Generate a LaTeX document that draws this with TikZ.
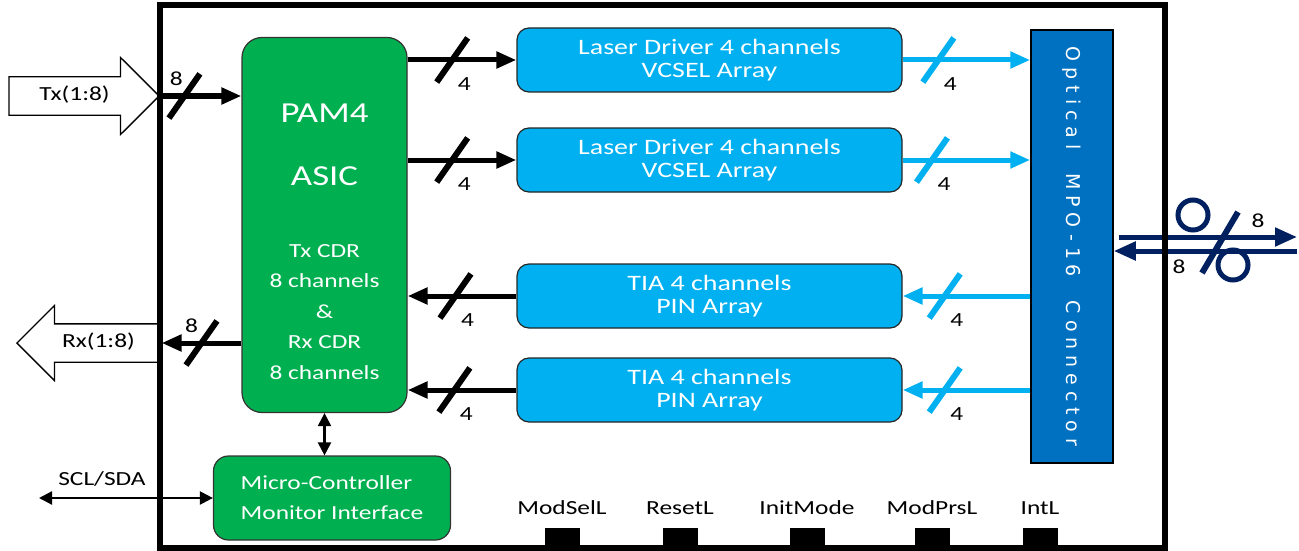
\documentclass[tikz,border=0pt]{standalone}
\usepackage{fontspec}
\setmainfont[FakeStretch = 1.27]{Carlito}
\newfontfamily\mpofont[LetterSpace = 31]{DejaVu Sans}
\usetikzlibrary{arrows.meta, shapes.arrows}

\definecolor{asicgreen}{RGB}{0, 176, 80}
\definecolor{driverblue}{RGB}{0, 176, 240}
\definecolor{mpoblue}{RGB}{0, 112, 192}
\definecolor{fibernavy}{RGB}{0, 32, 96}

\begin{document}
\begin{tikzpicture}[%
        x = 1pt,
        y = -1pt,
        font = \fontsize{20}{24}\selectfont,
        greenbox/.style = {%
            draw = black!80,
            line width = 1.2pt,
            fill = asicgreen,
            rounded corners = 20pt,
            text = white
        },
        bluebox/.style = {%
            draw = black!85,
            line width = 1.2pt,
            fill = driverblue,
            rounded corners = 12pt,
            text = white,
            align = center,
            minimum width = 385pt,
            minimum height = 64pt,
            font = \fontsize{22}{22.5}\selectfont
        },
        bigarrow/.style = {%
            single arrow,
            draw = black,
            fill = white,
            line width = 1.3pt,
            single arrow head indent = 0pt,
            inner xsep = 0pt,
            inner ysep = 9pt,
            text height = 14pt,
            text depth = 5pt
        },
        bus/.style = {%
            draw = black,
            line width = 5pt,
            -{Triangle[length = 20pt, width = 16pt]}
        },
        lightbus/.style = {%
            bus,
            draw = driverblue
        },
        fiber/.style = {%
            draw = fibernavy,
            line width = 5pt,
            -{Triangle[length = 22pt, width = 18pt]}
        },
        ctrl/.style = {%
            draw = black,
            line width = 2.2pt,
            {Triangle[length = 13pt, width = 13pt]}-{Triangle[length = 13pt, width = 13pt]}
        },
        slashmark/.style = {%
            rectangle,
            fill = black,
            inner sep = 0pt,
            minimum width = 54pt,
            minimum height = 6pt,
            rotate = 55
        },
        buscount/.style = {%
            inner sep = 0pt,
            xshift = 12pt,
            yshift = -24pt
        },
        pad/.style = {%
            rectangle,
            fill = black,
            inner sep = 0pt,
            minimum width = 35pt,
            minimum height = 20pt
        }
    ]
        \useasboundingbox (0, 0) rectangle (1299, 551);

        % in and out of the module
        \node[bigarrow, minimum height = 150pt, minimum width = 76pt,
            single arrow head extend = 19.5pt, anchor = tip] (txin) at (160, 96) {Tx(1:8)};
        \node[bigarrow, shape border rotate = 180, minimum height = 144pt, minimum width = 75pt,
            single arrow head extend = 18.5pt, anchor = tip] (rxout) at (16, 343) {Rx(1:8)};

        % blocks
        \node[greenbox, minimum width = 165pt, minimum height = 375pt] (asic) at (324.5, 225) {};
        \node[text = white, font = \fontsize{29}{30}\selectfont] (pamname) at (324.5, 113) {PAM4};
        \node[text = white, font = \fontsize{29}{30}\selectfont] (asicname) at (324.5, 176) {ASIC};
        \node[text = white, align = center, font = \fontsize{20}{30.5}\selectfont] (cdrtext)
            at (324.5, 312) {Tx CDR\\8 channels\\\&\\Rx CDR\\8 channels};
        \node[greenbox, rounded corners = 15pt, minimum width = 237pt, minimum height = 84pt,
            align = left, font = \fontsize{20}{30}\selectfont] (mcu)
            at (332, 498) {Micro-Controller\\Monitor Interface};

        \node[bluebox] (ldone) at (709.5, 60) {Laser Driver 4 channels\\VCSEL Array};
        \node[bluebox] (ldtwo) at (709.5, 160) {Laser Driver 4 channels\\VCSEL Array};
        \node[bluebox] (tiaone) at (709.5, 296) {TIA 4 channels\\PIN Array};
        \node[bluebox] (tiatwo) at (709.5, 390) {TIA 4 channels\\PIN Array};

        \node[draw = black, line width = 1.5pt, fill = mpoblue, inner sep = 0pt,
            minimum width = 82pt, minimum height = 433pt] (mpo) at (1072, 246.5) {};
        \node[rotate = -90, text = white, font = \mpofont\fontsize{19}{19}\selectfont] (mpolabel)
            at (mpo.center) {Optical\ \ MPO-16\ \ Connector};

        % electrical lanes
        \draw[bus] (txin.tip) -- node[slashmark, pos = 0.3] (txslash) {}
            node[pos = 0.3, inner sep = 0pt, xshift = -8pt, yshift = 17pt] (txcount) {8} (asic.west |- txin.tip);
        \draw[bus] (asic.west |- rxout.tip) -- node[slashmark, pos = 0.5] (rxslash) {}
            node[pos = 0.5, inner sep = 0pt, xshift = -10pt, yshift = 17pt] (rxcount) {8} (rxout.tail);

        \draw[bus] (asic.east |- ldone) -- node[slashmark, pos = 0.41] (slone) {}
            node[buscount, pos = 0.41] (cntone) {4} (ldone.west);
        \draw[bus] (asic.east |- ldtwo) -- node[slashmark, pos = 0.41] (sltwo) {}
            node[buscount, pos = 0.41] (cnttwo) {4} (ldtwo.west);
        \draw[bus] (tiaone.west) -- node[slashmark, pos = 0.56] (slthree) {}
            node[buscount, pos = 0.56] (cntthree) {4} (asic.east |- tiaone.west);
        \draw[bus] (tiatwo.west) -- node[slashmark, pos = 0.57] (slfour) {}
            node[buscount, pos = 0.57] (cntfour) {4} (asic.east |- tiatwo.west);

        % optical lanes
        \draw[lightbus] (ldone.east) -- node[slashmark, fill = driverblue, pos = 0.28] (oslone) {}
            node[buscount, pos = 0.28] (ocntone) {4} (mpo.west |- ldone.east);
        \draw[lightbus] (ldtwo.east) -- node[slashmark, fill = driverblue, pos = 0.23] (osltwo) {}
            node[buscount, pos = 0.23] (ocnttwo) {4} (mpo.west |- ldtwo.east);
        \draw[lightbus] (mpo.west |- tiaone.east) -- node[slashmark, fill = driverblue, pos = 0.67] (oslthree) {}
            node[buscount, pos = 0.67] (ocntthree) {4} (tiaone.east);
        \draw[lightbus] (mpo.west |- tiatwo.east) -- node[slashmark, fill = driverblue, pos = 0.67] (oslfour) {}
            node[buscount, pos = 0.67] (ocntfour) {4} (tiatwo.east);

        % management
        \draw[ctrl] (asic.south) -- (mcu.north -| asic.south);
        \coordinate (sclend) at (39, 498);
        \draw[ctrl] (sclend) -- (mcu.west);
        \node (scllabel) at (102, 479) {SCL/SDA};

        % fibre side
        \coordinate (fiberout) at (1297, 237);
        \coordinate (fiberin) at (1297, 251);
        \draw[fiber] ([xshift = 5pt]mpo.east |- fiberout) -- (fiberout);
        \draw[fiber] (fiberin) -- (mpo.east |- fiberin);
        \draw[fibernavy, line width = 5pt] (1193, 215) circle (15pt);
        \draw[fibernavy, line width = 5pt] (1233, 265) circle (15pt);
        \draw[fibernavy, line width = 6pt] (1238, 212) to (1202, 273);
        \node (fibcountout) at (1258, 221) {8};
        \node (fibcountin) at (1179, 267) {8};

        % module outline and pins
        \draw[line width = 6pt] (160, 5) rectangle (1165, 548);
        \foreach \px/\pname/\ptext in {562/modsel/ModSelL, 680/reset/ResetL,
            807/initmode/InitMode, 932/modprs/ModPrsL, 1040/intl/IntL} {
            \node[pad] (\pname) at (\px, 538) {};
            \node (\pname-lbl) at (\px, 508) {\ptext};
        }
    \end{tikzpicture}
\end{document}
